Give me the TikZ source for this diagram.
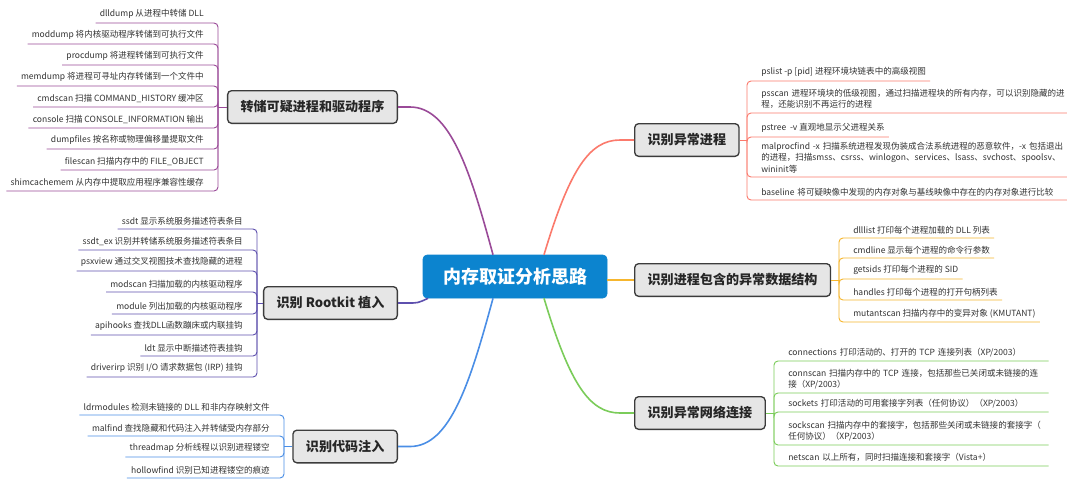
\documentclass[tikz,border=0pt]{standalone}
\usepackage{fontspec}
\setmainfont{Noto Sans CJK SC}
\definecolor{rootblue}{HTML}{0C84CF}
\definecolor{boxgray}{HTML}{E6E6E6}
\definecolor{boxline}{HTML}{3C3C3C}
\definecolor{leaftext}{HTML}{333333}
\definecolor{cdump}{HTML}{9A4A98}
\definecolor{crootkit}{HTML}{5E50AE}
\definecolor{cinject}{HTML}{4A8EE6}
\definecolor{cproc}{HTML}{FB7A6C}
\definecolor{cstruct}{HTML}{F6B62E}
\definecolor{cnet}{HTML}{7BCC5A}
\begin{document}
\begin{tikzpicture}[x=0.75pt, y=-0.75pt,
  title/.style={draw=rootblue, fill=rootblue, text=white, rounded corners=3pt,
    minimum width=138pt, minimum height=32.25pt, inner sep=0pt,
    font=\fontsize{13.5pt}{16pt}\selectfont\bfseries},
  branch/.style={draw=boxline, line width=1pt, fill=boxgray, rounded corners=3pt,
    minimum height=24.5pt, inner xsep=9.75pt, inner ysep=0pt, text=black!85,
    font=\fontsize{9.8pt}{12pt}\selectfont\bfseries},
  leaf/.style={text=leaftext, inner xsep=3pt, inner ysep=3pt,
    font=\fontsize{6.4pt}{8.3pt}\selectfont},
  leafl/.style={leaf, anchor=south east},
  leafr/.style={leaf, anchor=south west, align=left},
  stem/.style={line width=1.2pt},
  twig/.style={line width=0.7pt, rounded corners=3pt}]
\path[use as bounding box, fill=white] (0,0) rectangle (1080,483);

% 中心主题
\node[title] (root) at (515,276.5) {内存取证分析思路};

% 转储可疑进程和驱动程序
\node[branch, anchor=east] (dump) at (398,107) {转储可疑进程和驱动程序};
\node[leafl] (dump1) at (208,23) {dlldump 从进程中转储 DLL};
\node[leafl] (dump2) at (208,44) {moddump 将内核驱动程序转储到可执行文件};
\node[leafl] (dump3) at (208,65) {procdump 将进程转储到可执行文件};
\node[leafl] (dump4) at (208,86) {memdump 将进程可寻址内存转储到一个文件中};
\node[leafl] (dump5) at (208,107) {cmdscan 扫描 COMMAND\_HISTORY 缓冲区};
\node[leafl] (dump6) at (208,128) {console 扫描 CONSOLE\_INFORMATION 输出};
\node[leafl] (dump7) at (208,149) {dumpfiles 按名称或物理偏移量提取文件};
\node[leafl] (dump8) at (208,170) {filescan 扫描内存中的 FILE\_OBJECT};
\node[leafl] (dump9) at (208,191) {shimcachemem 从内存中提取应用程序兼容性缓存};
\coordinate (dumpsp) at (218,107);
\draw[stem, cdump] ([xshift=-16.5pt]root.north) .. controls (470,170) and (450,107) .. (410,107) -- (dump.east);
\draw[twig, cdump] (dump.west) -- (dumpsp);
\foreach \i in {1,...,9} \draw[twig, cdump] (dumpsp) |- (dump\i.south west);

% 识别 Rootkit 植入
\node[branch, anchor=east] (rootkit) at (398,303) {识别 Rootkit 植入};
\node[leafl] (rootkit1) at (247,229) {ssdt 显示系统服务描述符表条目};
\node[leafl] (rootkit2) at (247,250) {ssdt\_ex 识别并转储系统服务描述符表条目};
\node[leafl] (rootkit3) at (247,271) {psxview 通过交叉视图技术查找隐藏的进程};
\node[leafl] (rootkit4) at (247,292) {modscan 扫描加载的内核驱动程序};
\node[leafl] (rootkit5) at (247,314) {module 列出加载的内核驱动程序};
\node[leafl] (rootkit6) at (247,335) {apihooks 查找DLL函数蹦床或内联挂钩};
\node[leafl] (rootkit7) at (247,356) {ldt 显示中断描述符表挂钩};
\node[leafl] (rootkit8) at (247,377) {driverirp 识别 I/O 请求数据包 (IRP) 挂钩};
\coordinate (rootkitsp) at (257,303);
\draw[stem, crootkit] ([xshift=4pt]root.south west) .. controls (418,303) .. (408,303) -- (rootkit.east);
\draw[twig, crootkit] (rootkit.west) -- (rootkitsp);
\foreach \i in {1,...,8} \draw[twig, crootkit] (rootkitsp) |- (rootkit\i.south west);

% 识别代码注入
\node[branch, anchor=east] (inject) at (398,446.5) {识别代码注入};
\node[leafl] (inject1) at (274,415) {ldrmodules 检测未链接的 DLL 和非内存映射文件};
\node[leafl] (inject2) at (274,436) {malfind 查找隐藏和代码注入并转储受内存部分};
\node[leafl] (inject3) at (274,457) {threadmap 分析线程以识别进程镂空};
\node[leafl] (inject4) at (274,478) {hollowfind 识别已知进程镂空的痕迹};
\coordinate (injectsp) at (284,446.5);
\draw[stem, cinject] ([xshift=-16.5pt]root.south) .. controls (470,383) and (450,446.5) .. (410,446.5) -- (inject.east);
\draw[twig, cinject] (inject.west) -- (injectsp);
\foreach \i in {1,...,4} \draw[twig, cinject] (injectsp) |- (inject\i.south west);

% 识别异常进程
\node[branch, anchor=west] (proc) at (634,140) {识别异常进程};
\node[leafr] (proc1) at (757,81) {pslist -p [pid] 进程环境块链表中的高级视图};
\node[leafr, text width=226pt] (proc2) at (757,113) {psscan~进程环境块的低级视图，通过扫描进程块的所有内存，可以识别隐藏的进\\程，还能识别不再运行的进程};
\node[leafr] (proc3) at (757,137) {pstree\ \ -v 直观地显示父进程关系};
\node[leafr, text width=226pt] (proc4) at (757,177) {malprocfind~\mbox{-x}~扫描系统进程发现伪装成合法系统进程的恶意软件，\mbox{-x}~包括退出\\的进程，扫描smss、csrss、winlogon、services、lsass、svchost、spoolsv、\\wininit等};
\node[leafr, text width=226pt] (proc5) at (757,200) {baseline~将可疑映像中发现的内存对象与基线映像中存在的内存对象进行比较};
\coordinate (procsp) at (747,140);
\draw[stem, cproc] ([xshift=21.75pt]root.north) .. controls (570,168) and (590,140) .. (620,140) -- (proc.west);
\draw[twig, cproc] (proc.east) -- (procsp);
\foreach \i in {1,...,5} \draw[twig, cproc] (procsp) |- (proc\i.south east);

% 识别进程包含的异常数据结构
\node[branch, anchor=west] (struct) at (634,280) {识别进程包含的异常数据结构};
\node[leafr] (struct1) at (849,238) {dlllist 打印每个进程加载的 DLL 列表};
\node[leafr] (struct2) at (849,258) {cmdline 显示每个进程的命令行参数};
\node[leafr] (struct3) at (849,279) {getsids 打印每个进程的 SID};
\node[leafr] (struct4) at (849,300) {handles 打印每个进程的打开句柄列表};
\node[leafr] (struct5) at (849,322) {mutantscan 扫描内存中的变异对象 (KMUTANT)};
\coordinate (structsp) at (839,280);
\draw[stem, cstruct] (root.east |- struct.west) -- (struct.west);
\draw[twig, cstruct] (struct.east) -- (structsp);
\foreach \i in {1,...,5} \draw[twig, cstruct] (structsp) |- (struct\i.south east);

% 识别异常网络连接
\node[branch, anchor=west] (net) at (634,413) {识别异常网络连接};
\node[leafr, text width=192pt] (net1) at (784,361) {connections~打印活动的、打开的~TCP~连接列表（XP/2003）};
\node[leafr, text width=192pt] (net2) at (784,393) {connscan~扫描内存中的~TCP~连接，包括那些已关闭或未链接的连\\接（XP/2003）};
\node[leafr, text width=192pt] (net3) at (784,412) {sockets~打印活动的可用套接字列表（任何协议）（XP/2003）};
\node[leafr, text width=192pt] (net4) at (784,445) {sockscan~扫描内存中的套接字，包括那些关闭或未链接的套接字（\\任何协议）（XP/2003）};
\node[leafr, text width=192pt] (net5) at (784,466) {netscan~以上所有，同时扫描连接和套接字（Vista+）};
\coordinate (netsp) at (774,413);
\draw[stem, cnet] ([xshift=21.75pt]root.south) .. controls (570,385) and (590,413) .. (620,413) -- (net.west);
\draw[twig, cnet] (net.east) -- (netsp);
\foreach \i in {1,...,5} \draw[twig, cnet] (netsp) |- (net\i.south east);
\end{tikzpicture}
\end{document}
